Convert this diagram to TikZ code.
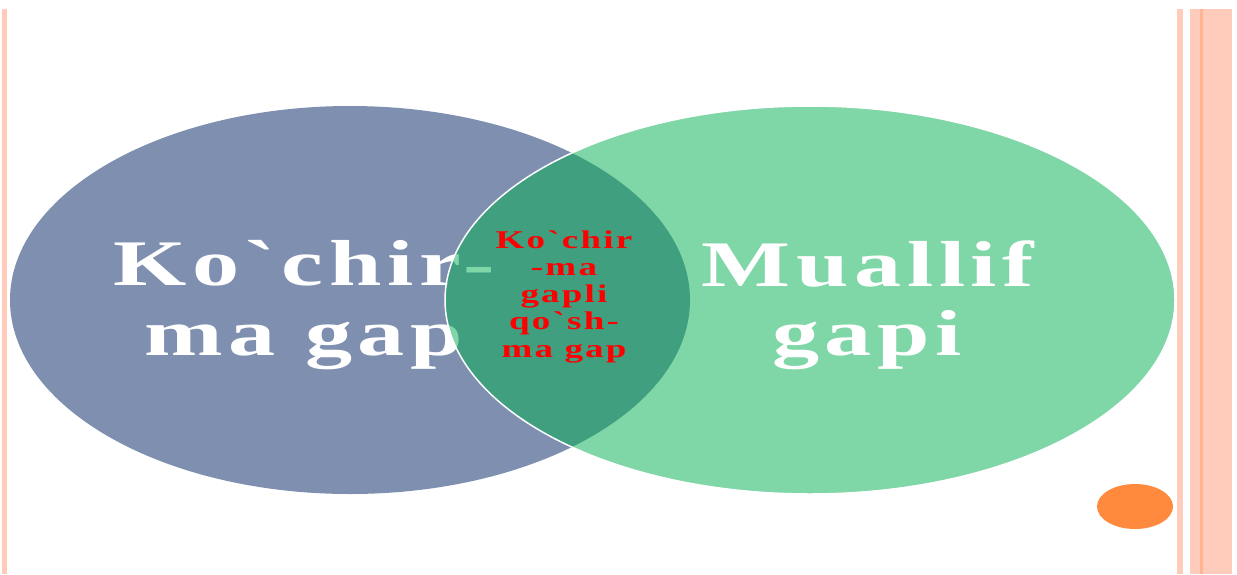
\documentclass[tikz,border=0pt]{standalone}
\usepackage{fontspec}
\setmainfont{Liberation Serif}[Ligatures=TeXOff]
\usepackage{graphicx}
\usetikzlibrary{shapes.geometric}
\definecolor{leftfill}{RGB}{127,143,176}
\definecolor{rightfill}{RGB}{0,175,80}
\definecolor{stripe}{RGB}{255,203,186}
\definecolor{stripedark}{RGB}{255,180,145}
\definecolor{orangedot}{RGB}{255,138,61}
\newcommand{\wtext}[1]{\scalebox{1.45}[1]{\addfontfeature{LetterSpace=6}#1}}
\begin{document}
\begin{tikzpicture}[x=1pt,y=-1pt,
  bigtxt/.style={anchor=base,inner sep=0pt,text=white,font=\fontsize{65}{70}\selectfont\bfseries},
  midtxt/.style={anchor=base,inner sep=0pt,text=red,font=\fontsize{25.5}{27}\selectfont\bfseries},
  setshape/.style={ellipse,inner sep=0pt,outer sep=0pt}]
\useasboundingbox (0,0) rectangle (1237,574);
\fill[white] (0,0) rectangle (1237,574);
% border stripes
\fill[stripe] (2,9) rectangle (7,574);
\fill[stripe] (1177,9) rectangle (1183,574);
\fill[stripe] (1190,9) rectangle (1232,574);
\fill[stripedark] (1200,9) rectangle (1203,574);
% left set
\node[setshape,fill=leftfill,minimum width=680pt,minimum height=388pt] (kset) at (350,300) {};
\node[bigtxt] (k1) at (304,285) {\wtext{Ko`chir-}};
\node[bigtxt] (k2) at (304,355) {\wtext{ma gap}};
% right set
\node[setshape,fill=rightfill,fill opacity=0.5,draw=white,line width=1.5pt,minimum width=730pt,minimum height=388pt] (mset) at (810,300) {};
\node[bigtxt] (m1) at (868,286) {\wtext{Muallif}};
\node[bigtxt] (m2) at (867,355) {\wtext{gapi}};
% intersection text
\node[midtxt] (c1) at (564,248) {\wtext{Ko`chir}};
\node[midtxt] (c2) at (564,275) {\wtext{-ma}};
\node[midtxt] (c3) at (564,302) {\wtext{gapli}};
\node[midtxt] (c4) at (564,329) {\wtext{qo`sh-}};
\node[midtxt] (c5) at (564,357) {\wtext{ma gap}};
% orange dot
\node[setshape,fill=orangedot,minimum width=76pt,minimum height=45pt] (dot) at (1135,506.5) {};
\end{tikzpicture}
\end{document}
